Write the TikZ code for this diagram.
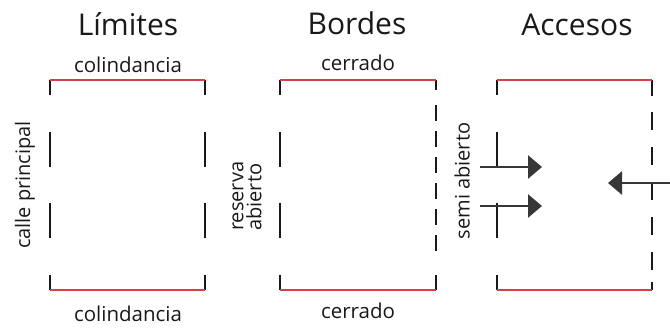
\documentclass[tikz,border=0pt]{standalone}
\usepackage{fontspec}
\setmainfont{Open Sans}
\usetikzlibrary{arrows.meta,positioning}
\definecolor{wallRed}{RGB}{214,64,74}
\definecolor{wallDark}{RGB}{25,25,25}
\definecolor{accessGray}{RGB}{55,55,55}
\definecolor{labelInk}{RGB}{25,25,25}

\begin{document}
\begin{tikzpicture}[x=1pt, y=-1pt,
    every node/.style={text=labelInk, inner sep=0pt},
    heading/.style={font=\fontsize{30}{33}\selectfont, anchor=base},
    edgelbl/.style={font=\fontsize{20.5}{22}\selectfont, anchor=base},
    sidelbl/.style={font=\fontsize{20}{18}\selectfont, rotate=90},
    closed/.style={draw=wallRed, line width=2.6pt},
    wall/.style={draw=wallDark, line width=2.6pt},
    access/.style={draw=accessGray, line width=2.6pt, -{Triangle[length=14pt, width=23pt]}}]
    \useasboundingbox (0,0) rectangle (670,327);

    % headings
    \node[heading] (limites) at (128,35) {Límites};
    \node[heading] (bordes) at (357,34) {Bordes};
    \node[heading] (accesos) at (577,35) {Accesos};

    % Limites
    \node[edgelbl] (colTop) at (128,72) {colindancia};
    \node[edgelbl] (colBot) at (128,321) {colindancia};
    \node[sidelbl] (calle) at (25,185) {calle principal};
    \foreach \x in {50,205} {
        \draw[wall] (\x,80) -- (\x,95) (\x,132) -- (\x,167) (\x,203) -- (\x,238) (\x,275) -- (\x,290);
    }
    \draw[closed] (50,80) -- (205,80);
    \draw[closed] (50,290) -- (205,290);

    % Bordes
    \node[edgelbl] (cerTop) at (358,70) {cerrado};
    \node[edgelbl] (cerBot) at (358,318) {cerrado};
    \node[sidelbl, align=left, anchor=west] (reserva) at (247,231) {reserva\\abierto};
    \node[sidelbl] (semi) at (462,181) {semi abierto};
    \draw[wall] (280,80) -- (280,95) (280,132) -- (280,167) (280,203) -- (280,238) (280,275) -- (280,290);
    \draw[wall] (436,80) -- (436,90) (436,275) -- (436,290);
    \foreach \y in {105,131,...,235} {
        \draw[wall] (436,\y) -- (436,\y+16);
    }
    \draw[closed] (280,80) -- (436,80);
    \draw[closed] (280,290) -- (436,290);

    % Accesos
    \draw[wall] (497,80) -- (497,95) (497,132) -- (497,167) (497,203) -- (497,238) (497,275) -- (497,290);
    \draw[wall] (652,80) -- (652,96) (652,282) -- (652,290);
    \foreach \y in {112,147,...,252} {
        \draw[wall] (652,\y) -- (652,\y+18);
    }
    \draw[closed] (497,80) -- (652,80);
    \draw[closed] (497,290) -- (652,290);

    \coordinate (inA) at (480,167);
    \coordinate (inAtip) at (542,167);
    \coordinate (inB) at (480,206);
    \coordinate (inBtip) at (542,206);
    \coordinate (inC) at (670,183);
    \coordinate (inCtip) at (608,183);
    \draw[access] (inA) -- (inAtip);
    \draw[access] (inB) -- (inBtip);
    \draw[access] (inC) -- (inCtip);
\end{tikzpicture}
\end{document}
